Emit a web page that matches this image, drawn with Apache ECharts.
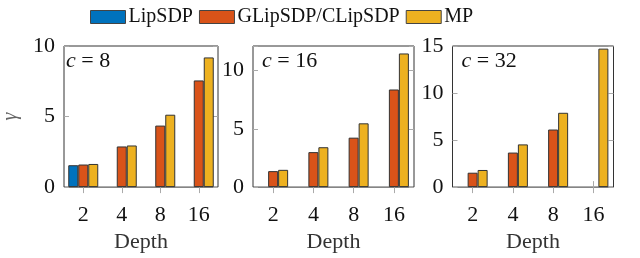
<!DOCTYPE html>
<html><head><meta charset="utf-8">
<script src="https://cdn.jsdelivr.net/npm/echarts@6/dist/echarts.min.js"></script>
<style>html,body{margin:0;padding:0;background:#fff}#c{width:640px;height:258px}</style>
</head><body><div id="c"></div>
<script>
const depths = ['2','4','8','16'];
const seriesNames = ['LipSDP','GLipSDP/CLipSDP','MP'];
const colors = ['#0072BD','#D95319','#EDB120'];
// c = 8
const lip8  = [1.55, null, null, null];
const glip8 = [1.60, 2.88, 4.36, 7.56];
const mp8   = [1.64, 2.95, 5.13, 9.19];
// c = 16
const lip16  = [null, null, null, null];
const glip16 = [1.37, 3.00, 4.24, 8.37];
const mp16   = [1.48, 3.42, 5.47, 11.46];
// c = 32
const lip32  = [null, null, null, null];
const glip32 = [1.53, 3.67, 6.12, null];
const mp32   = [1.82, 4.54, 7.90, 14.72];
const panelLabels = ['8','16','32'];
const yMax = [10, 12.1, 15];
const yTicks = [[0,5,10],[0,5,10],[0,5,10,15]];

const FONT = 'Liberation Serif';
const panels = [[lip8,glip8,mp8],[lip16,glip16,mp16],[lip32,glip32,mp32]];
const lefts = [57, 253, 452.5];
const grids = [], xAxes = [], yAxes = [], series = [], graphics = [];
panels.forEach((p, i) => {
  grids.push({left: lefts[i], top: 46, width: 161, height: 143.5, show: true, borderColor: '#333', borderWidth: 1, backgroundColor: 'transparent'});
  const tickStyle = {show: true, length: 6, lineStyle: {color: '#aaa', width: 1}, alignWithLabel: true};
  xAxes.push({type: 'category', gridIndex: i, data: depths, position: 'bottom',
    axisLine: {show: false}, axisTick: Object.assign({inside: false}, tickStyle),
    axisLabel: {fontFamily: FONT, fontSize: 22, color: '#111', margin: 17},
    name: 'Depth', nameLocation: 'middle', nameGap: 39, nameTextStyle: {fontFamily: FONT, fontSize: 22, color: '#333'}});
  xAxes.push({type: 'category', gridIndex: i, data: depths, position: 'top',
    axisLine: {show: false}, axisTick: Object.assign({inside: false}, tickStyle), axisLabel: {show: false}});
  const yt = yTicks[i];
  const yBase = {type: 'value', gridIndex: i, min: 0, max: yMax[i], interval: 5,
    axisLine: {show: false}, splitLine: {show: false}};
  yAxes.push(Object.assign({}, yBase, {position: 'left',
    axisTick: {show: true, inside: true, length: 5, lineStyle: {color: '#aaa'}},
    axisLabel: {fontFamily: FONT, fontSize: 22, color: '#111', margin: 9, showMaxLabel: true,
      formatter: v => (yt.indexOf(v) >= 0 ? String(v) : '')},
    name: i === 0 ? 'γ' : '', nameLocation: 'middle', nameGap: 43, nameRotate: 90,
    nameTextStyle: {fontFamily: FONT, fontSize: 20, fontStyle: 'italic', color: '#666'}}));
  yAxes.push(Object.assign({}, yBase, {position: 'right',
    axisTick: {show: true, inside: true, length: 5, lineStyle: {color: '#aaa'}},
    axisLabel: {show: false}}));
  p.forEach((d, k) => {
    series.push({type: 'bar', name: seriesNames[k], xAxisIndex: 2*i, yAxisIndex: 2*i, data: d,
      barWidth: 10, barGap: '0%', itemStyle: {color: colors[k], borderColor: '#333', borderWidth: 1}});
  });
  graphics.push({type: 'text', left: lefts[i] + 9, top: 50,
    style: {text: '{i|c} = ' + panelLabels[i], font: '22px "' + FONT + '"', fill: '#111',
      rich: {i: {fontStyle: 'italic', fontFamily: FONT, fontSize: 22}}}});
});

const chart = echarts.init(document.getElementById('c'), null, {renderer: 'canvas'});
chart.setOption({
  animation: false,
  color: colors,
  legend: {top: 2, left: 85, itemWidth: 35, itemHeight: 13, itemGap: 6, icon: 'rect',
    data: seriesNames,
    textStyle: {fontFamily: FONT, fontSize: 20, color: '#111', padding: [0,0,0,-2]},
    itemStyle: {borderColor: '#444', borderWidth: 1}},
  grid: grids, xAxis: xAxes, yAxis: yAxes, series: series, graphic: graphics
});
</script></body></html>
